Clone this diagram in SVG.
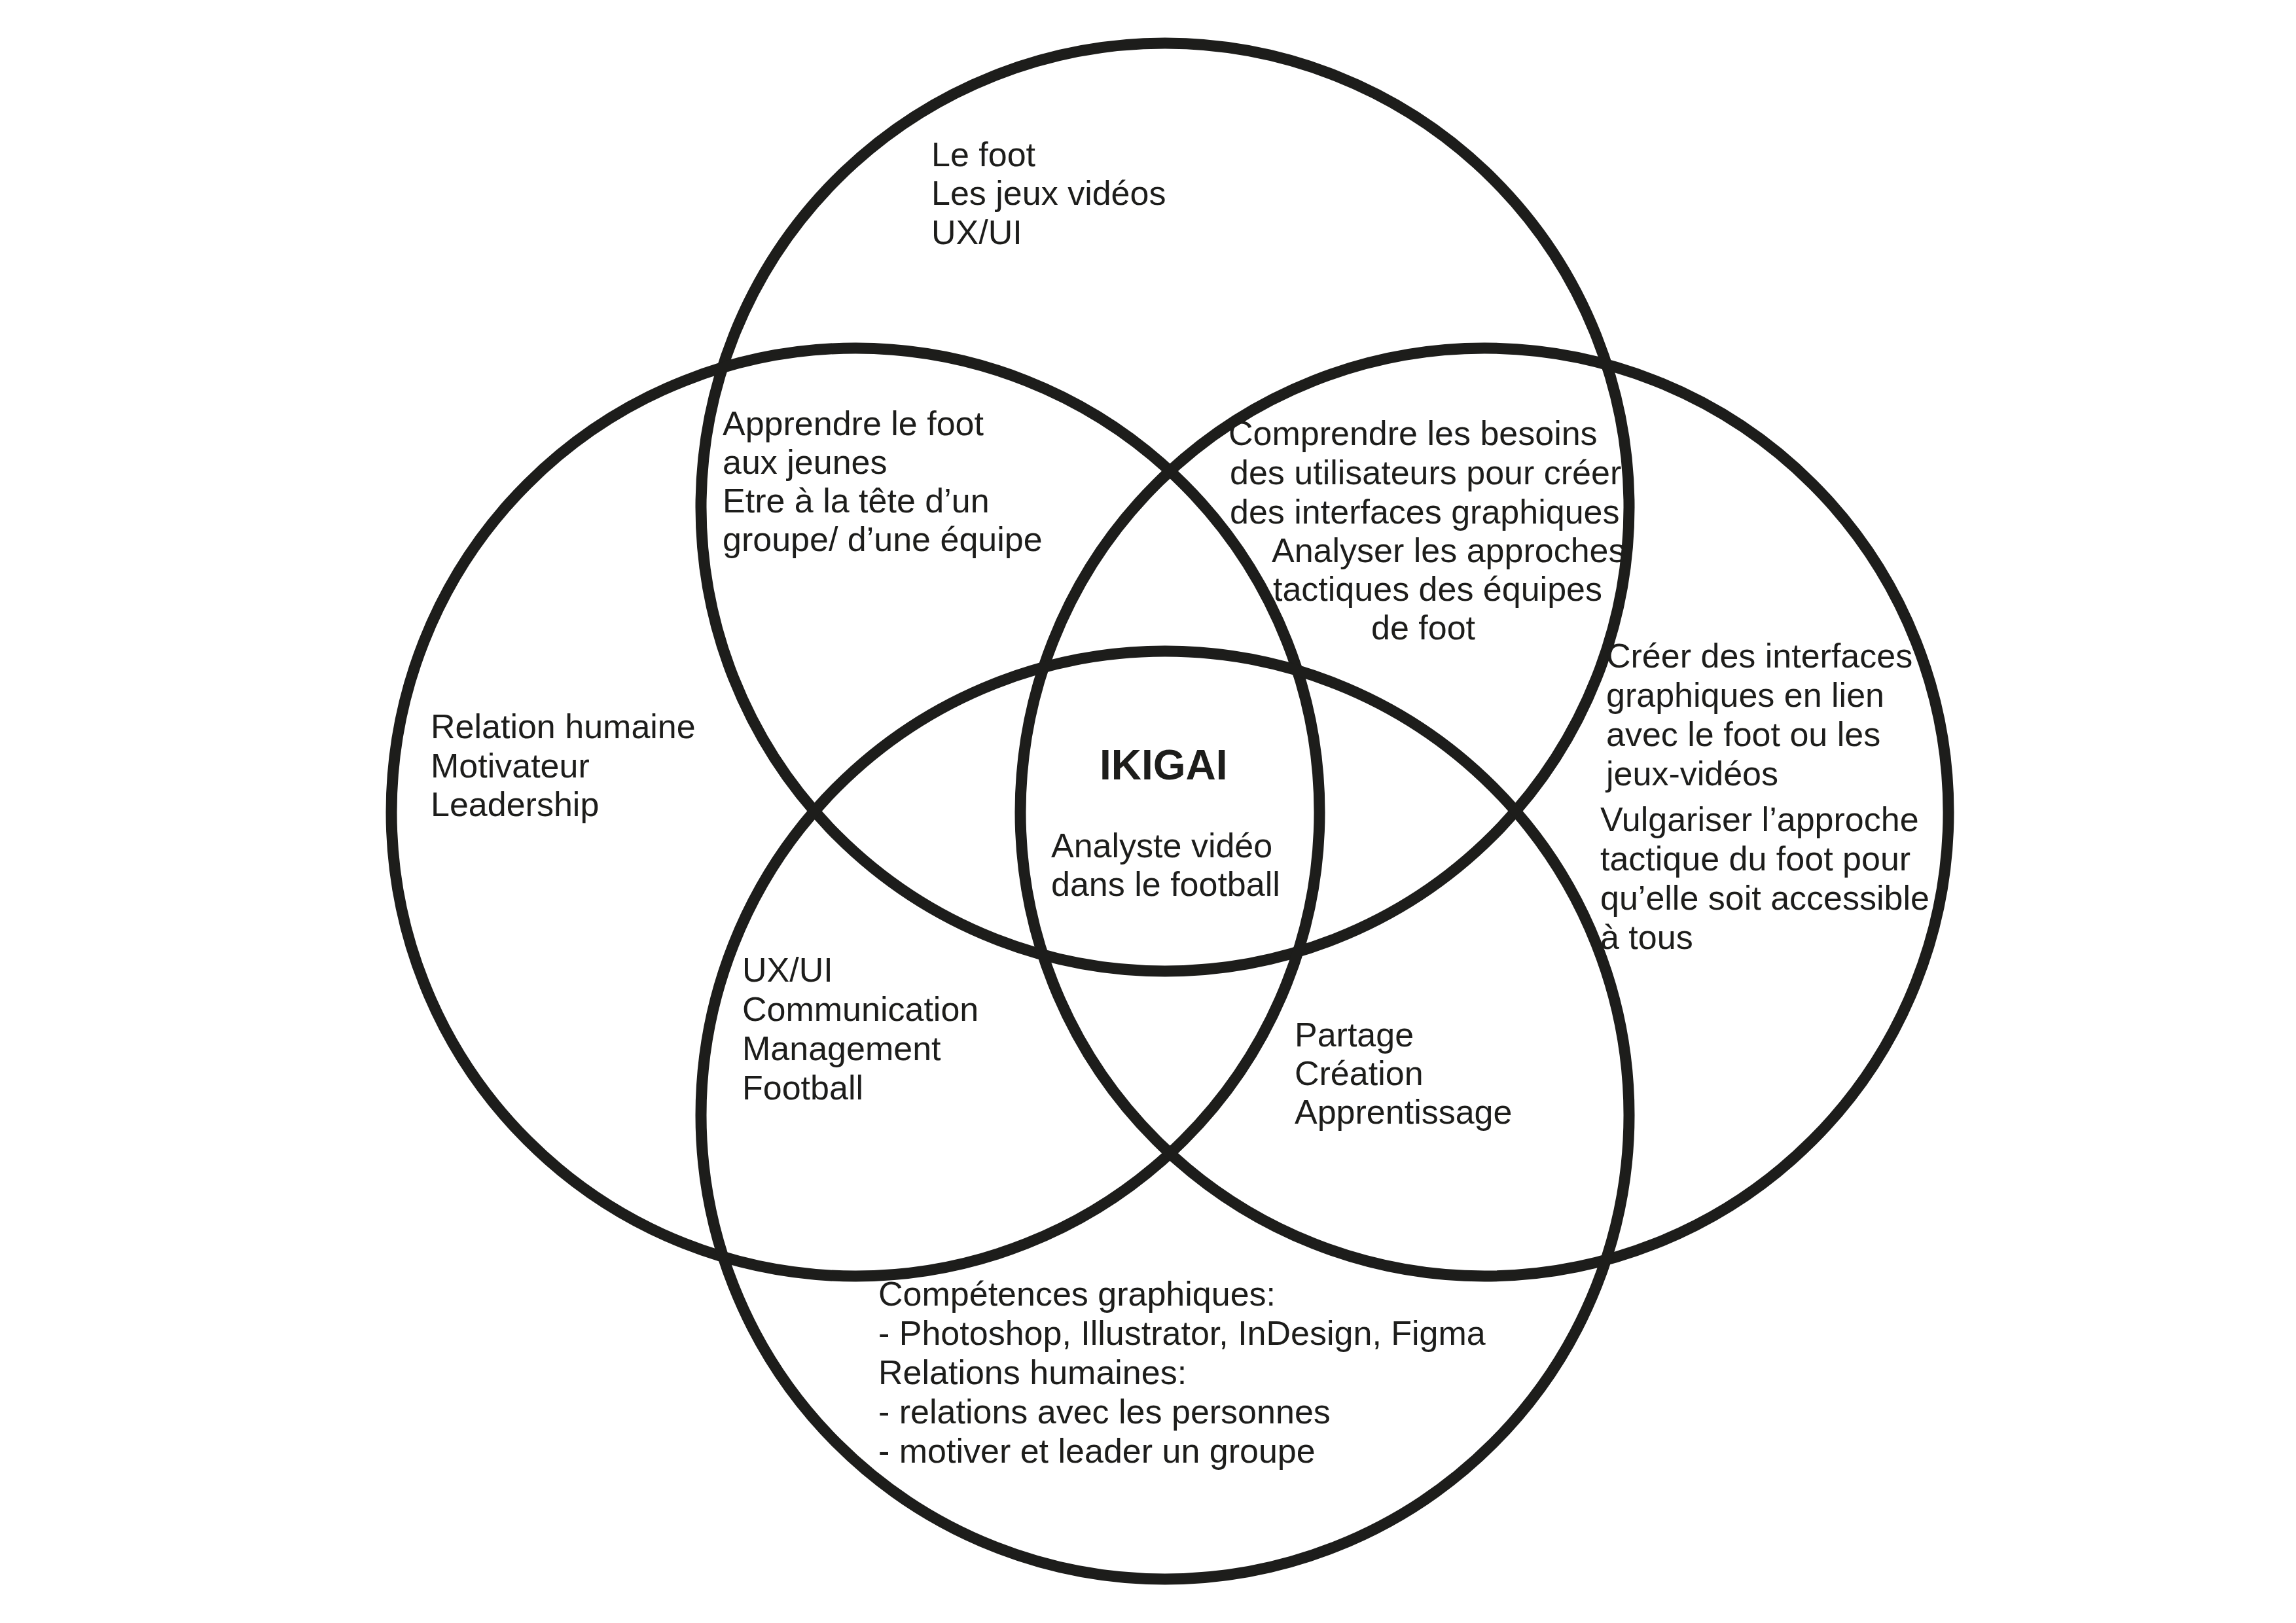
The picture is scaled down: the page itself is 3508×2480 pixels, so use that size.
<svg xmlns="http://www.w3.org/2000/svg" width="3508" height="2480" viewBox="0 0 3508 2480">
<style>
.c{fill:none;stroke:#1d1d1b;stroke-width:17}
.t{font-family:"Liberation Sans",Arial,Helvetica,sans-serif;font-size:52px;fill:#1d1d1b}
.b{font-weight:bold;font-size:64px}
</style>
<rect width="3508" height="2480" fill="#ffffff"/>
<g id="circles">
<g id="circle-top"><circle class="c" cx="1780" cy="775" r="709"/></g>
<g id="circle-left"><circle class="c" cx="1307" cy="1241" r="709"/></g>
<g id="circle-right"><circle class="c" cx="2268" cy="1241" r="709"/></g>
<g id="circle-bottom"><circle class="c" cx="1780" cy="1704" r="709"/></g>
</g>
<g id="connectors"></g>
<g id="top" class="t">
<text x="1423" y="254">Le foot</text>
<text x="1423" y="313">Les jeux vidéos</text>
<text x="1423" y="373">UX/UI</text>
</g>
<g id="top-left" class="t">
<text x="1104" y="665">Apprendre le foot</text>
<text x="1104" y="724">aux jeunes</text>
<text x="1104" y="783">Etre à la tête d’un</text>
<text x="1104" y="842">groupe/ d’une équipe</text>
</g>
<g id="top-right" class="t">
<text x="1877" y="680">Comprendre les besoins</text>
<text x="1879" y="740">des utilisateurs pour créer</text>
<text x="1879" y="800">des interfaces graphiques</text>
<text x="1943" y="859">Analyser les approches</text>
<text x="1945" y="918">tactiques des équipes</text>
<text x="2095" y="977">de foot</text>
</g>
<g id="left" class="t">
<text x="658" y="1128">Relation humaine</text>
<text x="658" y="1188">Motivateur</text>
<text x="658" y="1247">Leadership</text>
</g>
<g id="right" class="t">
<text x="2454" y="1020">Créer des interfaces</text>
<text x="2454" y="1080">graphiques en lien</text>
<text x="2454" y="1140">avec le foot ou les</text>
<text x="2454" y="1200">jeux-vidéos</text>
<text x="2445" y="1270">Vulgariser l’approche</text>
<text x="2445" y="1330">tactique du foot pour</text>
<text x="2445" y="1390">qu’elle soit accessible</text>
<text x="2445" y="1450">à tous</text>
</g>
<g id="center" class="t">
<text class="b" x="1680" y="1191">IKIGAI</text>
<text x="1606" y="1310">Analyste vidéo</text>
<text x="1606" y="1369">dans le football</text>
</g>
<g id="bottom-left" class="t">
<text x="1134" y="1500">UX/UI</text>
<text x="1134" y="1560">Communication</text>
<text x="1134" y="1620">Management</text>
<text x="1134" y="1680">Football</text>
</g>
<g id="bottom-right" class="t">
<text x="1978" y="1599">Partage</text>
<text x="1978" y="1658">Création</text>
<text x="1978" y="1717">Apprentissage</text>
</g>
<g id="bottom" class="t">
<text x="1342" y="1995">Compétences graphiques:</text>
<text x="1342" y="2055">- Photoshop, Illustrator, InDesign, Figma</text>
<text x="1342" y="2115">Relations humaines:</text>
<text x="1342" y="2175">- relations avec les personnes</text>
<text x="1342" y="2235">- motiver et leader un groupe</text>
</g>
</svg>
